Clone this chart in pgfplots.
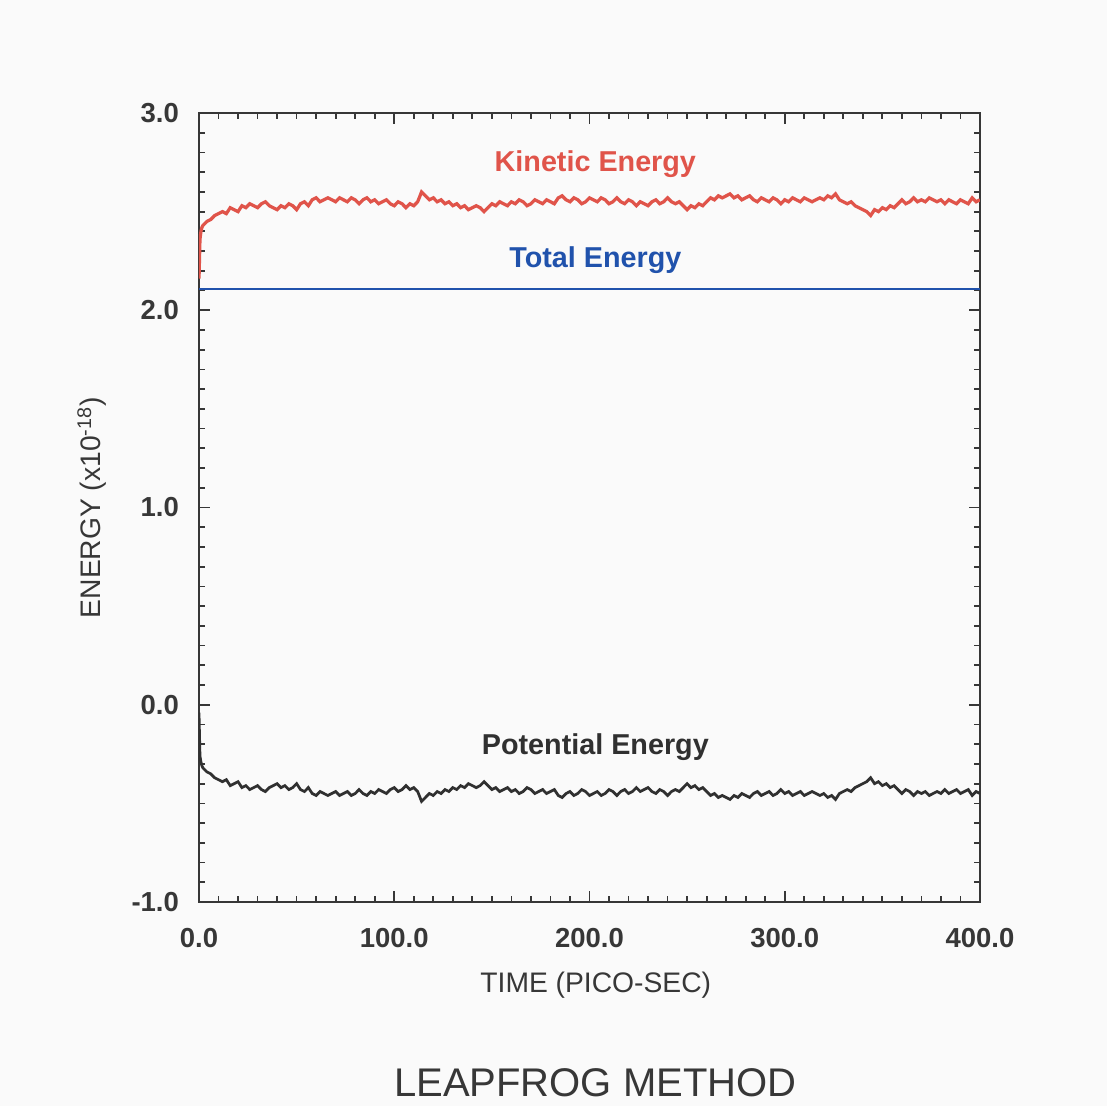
\documentclass[border=0pt]{standalone}
\usepackage{fontspec}
\setmainfont{Liberation Sans}
\usepackage{pgfplots}
\pgfplotsset{compat=1.18}
\usepackage{pgfplotstable}
\definecolor{kin}{RGB}{224,84,74}
\definecolor{tot}{RGB}{32,82,172}
\definecolor{pot}{RGB}{48,48,48}
\definecolor{axc}{RGB}{55,55,55}
\definecolor{bg}{RGB}{250,250,250}
\pgfplotstableread{
t K P
0 2.16 -0.04
0.5 2.36 -0.26
1 2.40 -0.29
1.5 2.42 -0.31
2 2.43 -0.32
3 2.44 -0.33
4 2.45 -0.34
6 2.46 -0.35
8 2.48 -0.37
10 2.49 -0.38
12 2.50 -0.39
14 2.49 -0.38
16 2.52 -0.41
18 2.51 -0.40
20 2.50 -0.39
22 2.53 -0.42
24 2.52 -0.41
26 2.54 -0.43
28 2.53 -0.42
30 2.52 -0.41
32 2.54 -0.43
34 2.55 -0.44
36 2.53 -0.42
38 2.52 -0.41
40 2.51 -0.40
42 2.53 -0.42
44 2.52 -0.41
46 2.54 -0.43
48 2.53 -0.42
50 2.51 -0.40
52 2.54 -0.43
54 2.55 -0.44
56 2.53 -0.42
58 2.56 -0.45
60 2.57 -0.46
62 2.55 -0.44
64 2.56 -0.45
66 2.57 -0.46
68 2.56 -0.45
70 2.55 -0.44
72 2.57 -0.46
74 2.56 -0.45
76 2.55 -0.44
78 2.57 -0.46
80 2.56 -0.45
82 2.54 -0.43
84 2.56 -0.45
86 2.57 -0.46
88 2.55 -0.44
90 2.56 -0.45
92 2.54 -0.43
94 2.55 -0.44
96 2.56 -0.45
98 2.54 -0.43
100 2.53 -0.42
102 2.55 -0.44
104 2.54 -0.43
106 2.52 -0.41
108 2.54 -0.43
110 2.53 -0.42
112 2.55 -0.44
114 2.60 -0.49
116 2.58 -0.47
118 2.56 -0.45
120 2.57 -0.46
122 2.55 -0.44
124 2.56 -0.45
126 2.54 -0.43
128 2.55 -0.44
130 2.53 -0.42
132 2.54 -0.43
134 2.52 -0.41
136 2.53 -0.42
138 2.51 -0.40
140 2.52 -0.41
142 2.53 -0.42
144 2.52 -0.41
146 2.50 -0.39
148 2.52 -0.41
150 2.54 -0.43
152 2.53 -0.42
154 2.55 -0.44
156 2.54 -0.43
158 2.53 -0.42
160 2.55 -0.44
162 2.54 -0.43
164 2.56 -0.45
166 2.55 -0.44
168 2.53 -0.42
170 2.54 -0.43
172 2.56 -0.45
174 2.55 -0.44
176 2.54 -0.43
178 2.56 -0.45
180 2.55 -0.44
182 2.54 -0.43
184 2.57 -0.46
186 2.58 -0.47
188 2.56 -0.45
190 2.55 -0.44
192 2.57 -0.46
194 2.56 -0.45
196 2.54 -0.43
198 2.55 -0.44
200 2.57 -0.46
202 2.56 -0.45
204 2.55 -0.44
206 2.57 -0.46
208 2.56 -0.45
210 2.54 -0.43
212 2.55 -0.44
214 2.57 -0.46
216 2.55 -0.44
218 2.54 -0.43
220 2.56 -0.45
222 2.55 -0.44
224 2.53 -0.42
226 2.55 -0.44
228 2.54 -0.43
230 2.53 -0.42
232 2.55 -0.44
234 2.56 -0.45
236 2.54 -0.43
238 2.55 -0.44
240 2.57 -0.46
242 2.55 -0.44
244 2.54 -0.43
246 2.55 -0.44
248 2.53 -0.42
250 2.51 -0.40
252 2.53 -0.42
254 2.52 -0.41
256 2.54 -0.43
258 2.53 -0.42
260 2.55 -0.44
262 2.57 -0.46
264 2.56 -0.45
266 2.58 -0.47
268 2.57 -0.46
270 2.58 -0.47
272 2.59 -0.48
274 2.57 -0.46
276 2.58 -0.47
278 2.56 -0.45
280 2.57 -0.46
282 2.58 -0.47
284 2.56 -0.45
286 2.55 -0.44
288 2.57 -0.46
290 2.56 -0.45
292 2.55 -0.44
294 2.57 -0.46
296 2.56 -0.45
298 2.54 -0.43
300 2.56 -0.45
302 2.55 -0.44
304 2.57 -0.46
306 2.56 -0.45
308 2.55 -0.44
310 2.57 -0.46
312 2.56 -0.45
314 2.55 -0.44
316 2.56 -0.45
318 2.57 -0.46
320 2.56 -0.45
322 2.58 -0.47
324 2.57 -0.46
326 2.59 -0.48
328 2.56 -0.45
330 2.55 -0.44
332 2.54 -0.43
334 2.55 -0.44
336 2.53 -0.42
338 2.52 -0.41
340 2.51 -0.40
342 2.50 -0.39
344 2.48 -0.37
346 2.51 -0.40
348 2.50 -0.39
350 2.52 -0.41
352 2.51 -0.40
354 2.53 -0.42
356 2.52 -0.41
358 2.54 -0.43
360 2.56 -0.45
362 2.54 -0.43
364 2.55 -0.44
366 2.57 -0.46
368 2.55 -0.44
370 2.56 -0.45
372 2.55 -0.44
374 2.57 -0.46
376 2.56 -0.45
378 2.55 -0.44
380 2.56 -0.45
382 2.54 -0.43
384 2.56 -0.45
386 2.55 -0.44
388 2.54 -0.43
390 2.56 -0.45
392 2.55 -0.44
394 2.54 -0.43
396 2.57 -0.46
398 2.55 -0.44
400 2.56 -0.45
}\energy

\begin{document}
\begin{tikzpicture}[x=1pt,y=1pt]
\fill[bg] (-79.6,-81.6) rectangle (363.2,360.8);
\path[use as bounding box] (-79.6,-81.6) rectangle (363.2,360.8);
\begin{axis}[
  at={(0,0)}, anchor=south west,
  scale only axis, width=312.4pt, height=315.6pt,
  xmin=0, xmax=400, ymin=-1, ymax=3,
  xtick={0,100,200,300,400},
  xticklabels={0.0,100.0,200.0,300.0,400.0},
  ytick={-1,0,1,2,3},
  yticklabels={-1.0,0.0,1.0,2.0,3.0},
  minor x tick num=9, minor y tick num=9,
  tick align=inside,
  major tick length=4.5pt, minor tick length=2.4pt,
  axis line style={axc, line width=0.8pt},
  every tick/.style={axc, line width=0.7pt},
  tick label style={font=\fontsize{11}{13}\selectfont\bfseries, text=axc},
  xticklabel style={yshift=-7pt},
  yticklabel style={xshift=-4.5pt},
  xlabel={TIME (PICO-SEC)},
  ylabel={ENERGY (x10\textsuperscript{-18})},
  every axis x label/.style={at={(axis description cs:0.5,-0.105)}, anchor=center, xshift=2.5pt, font=\fontsize{11.3}{13}\selectfont, text=axc},
  every axis y label/.style={at={(axis description cs:-0.137,0.5)}, rotate=90, anchor=center, font=\fontsize{11.3}{13}\selectfont, text=axc},
  title={LEAPFROG METHOD},
  every axis title/.style={at={(axis description cs:0.5,-0.229)}, anchor=center, xshift=2.3pt, font=\fontsize{16}{18}\selectfont, text=axc},
]
\addplot[kin, line width=1.3pt] table[x=t, y=K] {\energy};
\addplot[pot, line width=1.1pt] table[x=t, y=P] {\energy};
\addplot[tot, line width=0.9pt] coordinates {(0,2.107) (100,2.107) (200,2.107) (300,2.107) (400,2.107)};
\node[text=kin, font=\fontsize{11.5}{13}\selectfont\bfseries] at (axis cs:203,2.741) {Kinetic Energy};
\node[text=tot, font=\fontsize{11.5}{13}\selectfont\bfseries] at (axis cs:203,2.254) {Total Energy};
\node[text=pot, font=\fontsize{11.5}{13}\selectfont\bfseries] at (axis cs:203,-0.213) {Potential Energy};
\end{axis}
\end{tikzpicture}
\end{document}
